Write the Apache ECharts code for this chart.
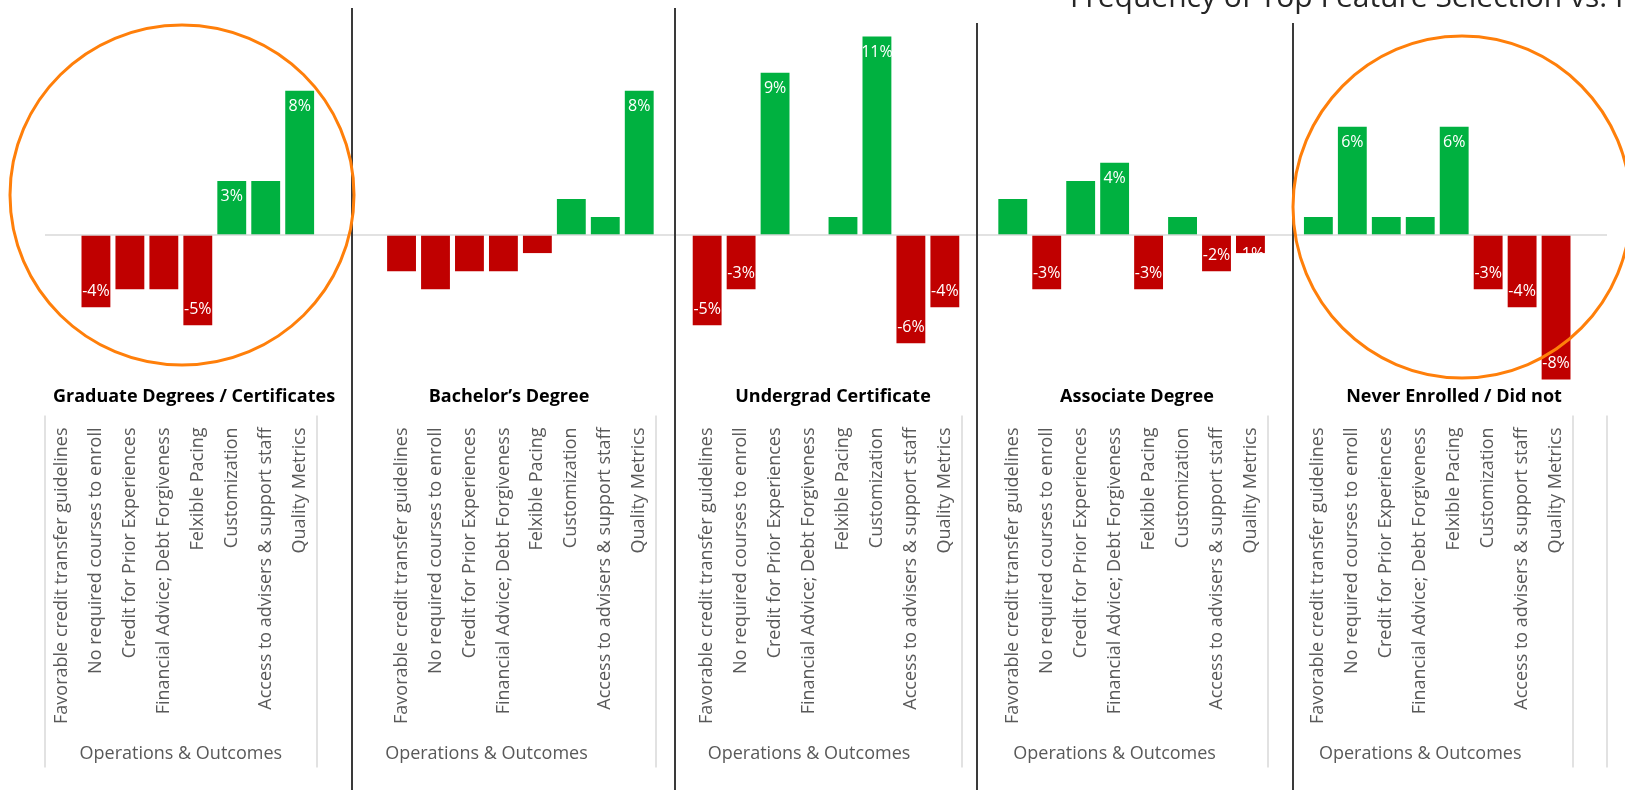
<!DOCTYPE html>
<html>
<head>
<meta charset="utf-8">
<title>Frequency of Top Feature Selection</title>
<script src="https://cdn.jsdelivr.net/npm/echarts@6.0.0/dist/echarts.min.js"></script>
<style>
  html, body { margin: 0; padding: 0; background: #fff; }
  #chart { width: 1625px; height: 790px; }
</style>
</head>
<body>
<div id="chart"></div>
<script>
// features, repeated for every respondent group
const features = [
  'Favorable credit transfer guidelines',
  'No required courses to enroll',
  'Credit for Prior Experiences',
  'Financial Advice; Debt Forgiveness',
  'Felxible Pacing',
  'Customization',
  'Access to advisers & support staff',
  'Quality Metrics'
];
const groupName = 'Operations & Outcomes';
const panelTitles = [
  'Graduate Degrees / Certificates',
  'Bachelor’s Degree',
  'Undergrad Certificate',
  'Associate Degree',
  'Never Enrolled / Did not'
];
const chartTitle = 'Frequency of Top Feature Selection vs. Highest Degree';

// difference from overall frequency, in %
const gradValues      = [0, -4, -3, -3, -5, 3, 3, 8];
const bachelorValues  = [-2, -3, -2, -2, -1, 2, 1, 8];
const undergradValues = [-5, -3, 9, 0, 1, 11, -6, -4];
const associateValues = [2, -3, 3, 4, -3, 1, -2, -1];
const neverValues     = [1, 6, 1, 1, 6, -3, -4, -8];

// bars that carry a value label (1 = labelled)
const gradLabels      = [0, 1, 0, 0, 1, 1, 0, 1];
const bachelorLabels  = [0, 0, 0, 0, 0, 0, 0, 1];
const undergradLabels = [1, 1, 1, 0, 0, 1, 1, 1];
const associateLabels = [0, 1, 0, 1, 1, 0, 1, 1];
const neverLabels     = [0, 1, 0, 0, 1, 1, 1, 1];

// empty category slots in front of each group and after the last one
const blanksBefore = [0, 2, 1, 1, 1];
const blanksAfter = 1;

const GREEN = '#00b140';
const RED = '#c00000';
const ORANGE = '#ff7f0a';
const FONT = 'Open Sans';

const panelValues = [gradValues, bachelorValues, undergradValues, associateValues, neverValues];
const panelLabels = [gradLabels, bachelorLabels, undergradLabels, associateLabels, neverLabels];

function makeItem(v, lab) {
  const item = { value: v, itemStyle: { color: v >= 0 ? GREEN : RED } };
  item.label = { show: !!lab, position: v >= 0 ? 'insideTop' : 'insideBottom' };
  // excel clips a label that doesn't fit its bar
  if (lab && Math.abs(v) < 2) {
    item.label.position = 'bottom';
    item.label.distance = -7;
  }
  return item;
}

const categories = [];
const barData = [];
const groupBounds = [];
const groupCenters = [];
panelValues.forEach(function (vals, p) {
  const start = categories.length;
  for (let i = 0; i < blanksBefore[p]; i++) { categories.push(''); barData.push('-'); }
  vals.forEach(function (v, i) {
    categories.push(features[i]);
    barData.push(makeItem(v, panelLabels[p][i]));
  });
  groupBounds.push(start);
  groupCenters.push((start + categories.length) / 2);
});
groupBounds.push(categories.length);
for (let i = 0; i < blanksAfter; i++) { categories.push(''); barData.push('-'); }
groupBounds.push(categories.length);

const chart = echarts.init(document.getElementById('chart'));

const option = {
  animation: false,
  backgroundColor: '#fff',
  textStyle: { fontFamily: FONT },
  grid: { left: 45, right: 18, top: 18.5, bottom: 374.5, containLabel: false },
  xAxis: [
    {
      type: 'category',
      data: categories,
      axisLine: { show: false, onZero: false },
      axisTick: { show: false },
      axisLabel: {
        interval: 0, rotate: 90, margin: 12,
        color: '#595959', fontSize: 18, fontFamily: FONT
      }
    },
    {
      type: 'value',
      min: 0,
      max: categories.length,
      position: 'bottom',
      axisLine: { show: false, onZero: false },
      splitLine: { show: false },
      axisTick: {
        show: true, customValues: groupBounds, length: 352,
        lineStyle: { color: '#d9d9d9', width: 1.5 }
      },
      axisLabel: {
        customValues: groupCenters, margin: 329,
        color: '#595959', fontSize: 18, fontFamily: FONT,
        formatter: function () { return groupName; }
      }
    }
  ],
  yAxis: { type: 'value', min: -10, max: 12, show: false },
  series: [{
    type: 'bar',
    data: barData,
    barCategoryGap: '15%',
    label: {
      color: '#fff', fontSize: 16, fontFamily: FONT, distance: 8,
      formatter: function (p) { return p.value + '%'; }
    },
    markLine: {
      silent: true, symbol: 'none',
      label: { show: false },
      lineStyle: { color: '#d9d9d9', width: 1.5, type: 'solid' },
      data: [{ yAxis: 0 }]
    }
  }],
  graphic: []
};

// panel titles, separators and highlight circles (drawn shapes in the original)
const titleX = [194, 509, 833, 1137, 1454];
panelTitles.forEach(function (t, i) {
  option.graphic.push({
    type: 'text', x: titleX[i], y: 397, z: 50,
    style: { text: t, fill: '#000', font: 'bold 18px ' + FONT, textAlign: 'center', textVerticalAlign: 'middle' }
  });
});
option.graphic.push({
  type: 'text', x: 1070, y: -2, z: 50,
  style: { text: chartTitle, fill: '#262626', font: '30px ' + FONT, textAlign: 'left', textVerticalAlign: 'middle' }
});
[[352, 8], [675, 8], [977, 23], [1293, 23]].forEach(function (s) {
  option.graphic.push({
    type: 'line', z: 50,
    shape: { x1: s[0], y1: s[1], x2: s[0], y2: 790 },
    style: { stroke: '#3a3a3a', lineWidth: 2 }
  });
});
[[182, 195, 172, 170], [1462, 207, 169, 171]].forEach(function (c) {
  option.graphic.push({
    type: 'ellipse', z: 60,
    shape: { cx: c[0], cy: c[1], rx: c[2], ry: c[3] },
    style: { fill: 'none', stroke: ORANGE, lineWidth: 3 }
  });
});

chart.setOption(option);
window.addEventListener('resize', function () { chart.resize(); });
</script>
</body>
</html>
